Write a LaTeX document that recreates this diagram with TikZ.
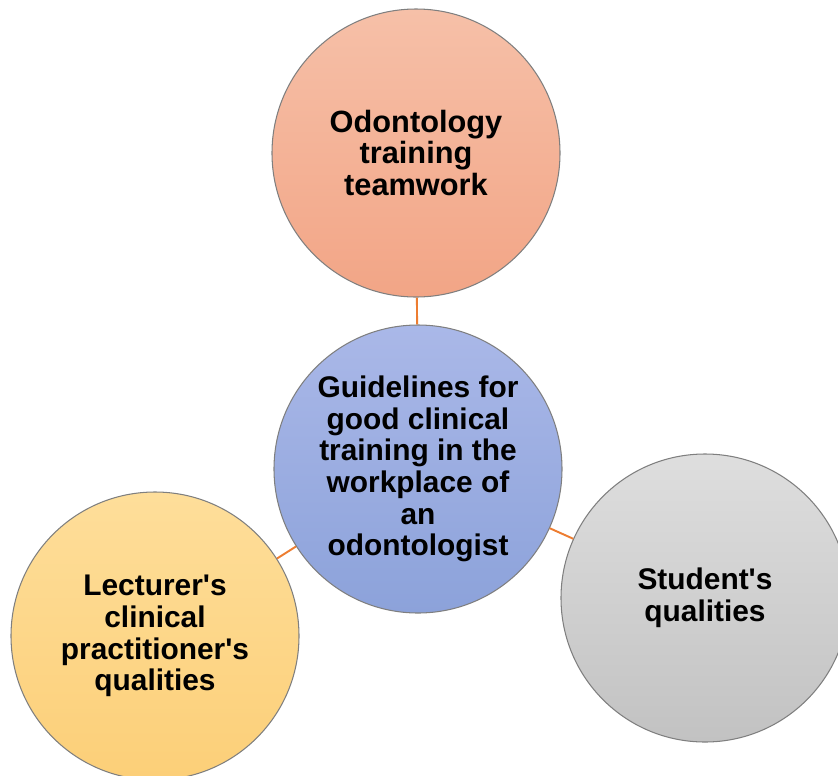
\documentclass[tikz,border=0pt]{standalone}
\usepackage{fontspec}
\setmainfont{Liberation Sans}
\definecolor{linkorange}{HTML}{ED7D31}
\definecolor{salmontop}{HTML}{F6C0A8}
\definecolor{salmonbot}{HTML}{F2A586}
\definecolor{bluetop}{HTML}{AAB8E8}
\definecolor{bluebot}{HTML}{8CA2DA}
\definecolor{yellowtop}{HTML}{FEDE9A}
\definecolor{yellowbot}{HTML}{FCCF78}
\definecolor{greytop}{HTML}{DEDEDE}
\definecolor{greybot}{HTML}{C2C2C2}
\definecolor{rimgrey}{HTML}{7F7F7F}

\begin{document}
\begin{tikzpicture}[
    bubble/.style={circle, draw=rimgrey, line width=0.6pt, minimum size=5.76cm,
        inner sep=0pt, align=center, font=\fontsize{17}{18}\selectfont\bfseries},
    link/.style={draw=linkorange, line width=1.1pt}
]
\useasboundingbox (0,0) rectangle (16.76,-15.52);

% Circles
\node[bubble, top color=salmontop, bottom color=salmonbot,
    font=\fontsize{17.5}{18}\selectfont\bfseries] (team) at (8.32,-3.06)
    {Odontology\\training\\teamwork};
\node[bubble, top color=bluetop, bottom color=bluebot] (guide) at (8.36,-9.38)
    {Guidelines for\\good clinical\\training in the\\workplace of\\an\\odontologist};
\node[bubble, top color=yellowtop, bottom color=yellowbot] (lecturer) at (3.10,-12.72)
    {Lecturer\textquotesingle s\\clinical\\practitioner\textquotesingle s\\qualities};
\node[bubble, top color=greytop, bottom color=greybot] (student) at (14.10,-11.96)
    {Student\textquotesingle s\\qualities};

% Links
\foreach \n in {team,lecturer,student} {
    \draw[link] (guide) -- (\n);
}
\end{tikzpicture}
\end{document}
